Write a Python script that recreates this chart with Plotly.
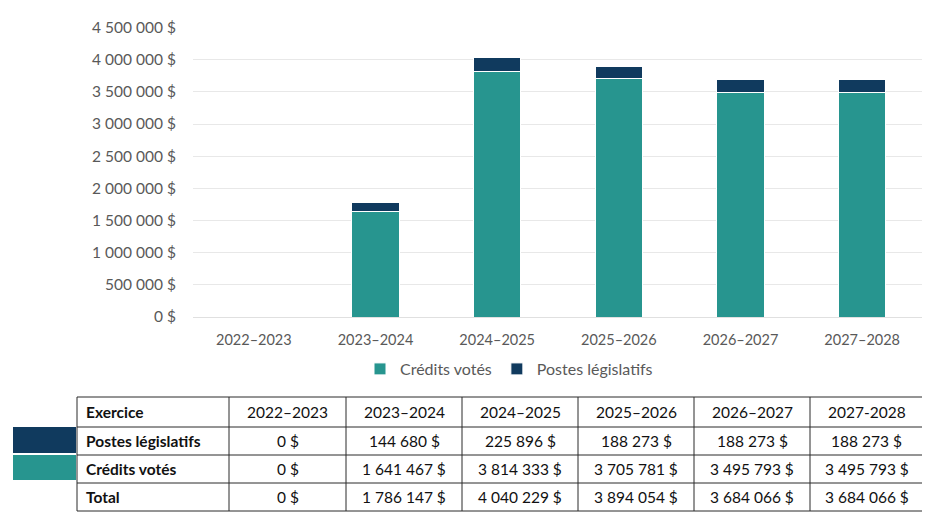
import plotly.graph_objects as go

# ---- data ----
years_axis = ["2022–2023", "2023–2024", "2024–2025", "2025–2026", "2026–2027", "2027–2028"]
years_table = ["2022–2023", "2023–2024", "2024–2025", "2025–2026", "2026–2027", "2027-2028"]
credits_votes = [0, 1641467, 3814333, 3705781, 3495793, 3495793]
postes_legislatifs = [0, 144680, 225896, 188273, 188273, 188273]
totals = [a + b for a, b in zip(credits_votes, postes_legislatifs)]
y_ticks = [0, 500000, 1000000, 1500000, 2000000, 2500000, 3000000, 3500000, 4000000, 4500000]
row_labels = ["Postes législatifs", "Crédits votés", "Total"]
header_first = "Exercice"

TEAL = "#27958f"
NAVY = "#103a5e"
OFF = 8                 # page body margin
W, H = 930 - OFF, 516 - OFF
FONT = "Lato"
TXT = "#595959"


def fmt(v):
    return f"{v:,}".replace(",", " ") + " $"


def px_x(x):
    return (x - OFF) / W


def px_y(y):
    return 1 - (y - OFF) / H


fig = go.Figure()
fig.add_trace(go.Bar(
    x=years_axis, y=credits_votes, name="Crédits votés",
    marker=dict(color=TEAL, line=dict(color="white", width=1)),
))
fig.add_trace(go.Bar(
    x=years_axis, y=postes_legislatifs, name="Postes législatifs",
    marker=dict(color=NAVY, line=dict(color="white", width=1)),
))

# ---- table (grid lines + text) ----
col_edges = [77, 229, 346, 462, 578, 694, 810, 923]
row_edges = [397, 427, 455, 483, 511]
shapes = []
LC = "#2b2b2b"
for xe in col_edges:
    shapes.append(dict(type="line", xref="paper", yref="paper",
                       x0=px_x(xe), x1=px_x(xe), y0=px_y(row_edges[0]), y1=px_y(row_edges[-1]),
                       line=dict(color=LC, width=1)))
for ye in row_edges:
    shapes.append(dict(type="line", xref="paper", yref="paper",
                       x0=px_x(col_edges[0]), x1=px_x(col_edges[-1]), y0=px_y(ye), y1=px_y(ye),
                       line=dict(color=LC, width=1)))
# colour keys left of table
shapes.append(dict(type="rect", xref="paper", yref="paper", x0=px_x(13), x1=px_x(76),
                   y0=px_y(453), y1=px_y(427), fillcolor=NAVY, line=dict(width=0)))
shapes.append(dict(type="rect", xref="paper", yref="paper", x0=px_x(13), x1=px_x(76),
                   y0=px_y(480), y1=px_y(455), fillcolor=TEAL, line=dict(width=0)))

table_rows = [
    [f"<b>{header_first}</b>"] + years_table,
    [f"<b>{row_labels[0]}</b>"] + [fmt(v) for v in postes_legislatifs],
    [f"<b>{row_labels[1]}</b>"] + [fmt(v) for v in credits_votes],
    [f"<b>{row_labels[2]}</b>"] + [fmt(v) for v in totals],
]
annotations = []
for r, row in enumerate(table_rows):
    yc = (row_edges[r] + row_edges[r + 1]) / 2
    for c, txt in enumerate(row):
        if c == 0:
            annotations.append(dict(xref="paper", yref="paper", x=px_x(col_edges[0] + 7), y=px_y(yc),
                                    xanchor="left", yanchor="middle", text=txt, showarrow=False,
                                    font=dict(family=FONT, size=15.5, color="#111111")))
        else:
            xc = (col_edges[c] + col_edges[c + 1]) / 2
            annotations.append(dict(xref="paper", yref="paper", x=px_x(xc), y=px_y(yc),
                                    xanchor="center", yanchor="middle", text=txt, showarrow=False,
                                    font=dict(family=FONT, size=15.5, color="#111111")))

fig.update_layout(
    width=W, height=H,
    margin=dict(l=0, r=0, t=0, b=0, autoexpand=False),
    paper_bgcolor="white", plot_bgcolor="white",
    barmode="stack", bargap=0.61,
    font=dict(family=FONT, size=14, color=TXT),
    showlegend=True,
    legend=dict(orientation="h", x=px_x(509), xanchor="center", y=px_y(369), yanchor="middle",
                font=dict(family=FONT, size=16, color=TXT), traceorder="normal",
                itemwidth=30, bgcolor="rgba(0,0,0,0)"),
    xaxis=dict(domain=[px_x(193), px_x(923)], showgrid=False, showline=False,
               ticks="outside", ticklen=10, tickcolor="rgba(0,0,0,0)",
               tickfont=dict(family=FONT, size=14.5, color=TXT)),
    yaxis=dict(domain=[px_y(317), px_y(27.5)], range=[0, 4500000],
               tickvals=y_ticks, ticktext=[fmt(v) for v in y_ticks],
               showgrid=True, gridcolor="#e8e8e8", gridwidth=1,
               zeroline=True, zerolinecolor="#e0e0e0", zerolinewidth=1,
               showline=False, ticks="outside", ticklen=13, tickcolor="rgba(0,0,0,0)",
               tickfont=dict(family=FONT, size=15.5, color=TXT)),
    shapes=shapes,
    annotations=annotations,
)

fig.write_html("out.html")
